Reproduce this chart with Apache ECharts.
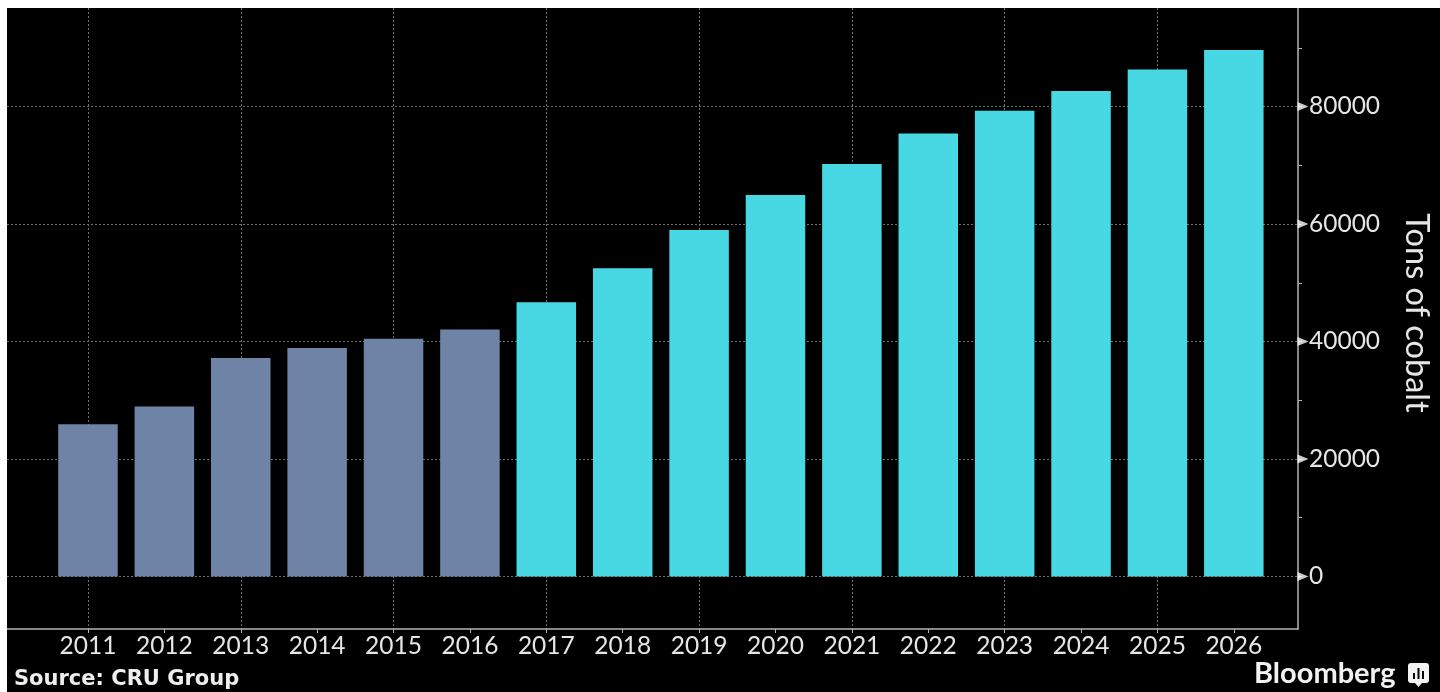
<!DOCTYPE html>
<html>
<head>
<meta charset="utf-8">
<style>
  html, body { margin: 0; padding: 0; width: 1440px; height: 692px; background: #fff; overflow: hidden; }
  #chart { position: absolute; left: 7px; top: 8px; width: 1433px; height: 684px; background: #000; }
</style>
<script src="https://cdn.jsdelivr.net/npm/echarts@6/dist/echarts.min.js"></script>
</head>
<body>
<div id="chart"></div>
<script>
// Global cobalt demand in tons, with CRU Group's outlook from 2017 on
const years = [2011, 2012, 2013, 2014, 2015, 2016, 2017, 2018, 2019, 2020, 2021, 2022, 2023, 2024, 2025, 2026];
const tons = [25900, 28950, 37200, 38900, 40450, 42050, 46700, 52450, 59000, 64950, 70200, 75400, 79300, 82650, 86300, 89600];
const lastActualYear = 2016;
const yLabelTicks = [0, 20000, 40000, 60000, 80000];
const yMinorTicks = [0, 10000, 20000, 30000, 40000, 50000, 60000, 70000, 80000, 90000];
const xGridYears = [2011, 2013, 2015, 2017, 2019, 2021, 2023, 2025];

const actualColor = '#6f83a6';
const outlookColor = '#48d8e4';
const inkColor = '#e6e6e6';
const frameColor = '#b4b4b4';
const gridColor = '#707070';

const xRange = { min: 2009.94, max: 2026.84 };
const yRange = { min: -8940, max: 96770 };

const chart = echarts.init(document.getElementById('chart'));
chart.setOption({
  animation: false,
  backgroundColor: '#000',
  grid: { left: 0, top: 0, right: 142, bottom: 63 },
  xAxis: [
    {
      type: 'value', ...xRange,
      axisLine: { show: true, onZero: false, lineStyle: { color: frameColor, width: 1.5 } },
      axisTick: { show: true, length: 4, customValues: years, lineStyle: { color: frameColor } },
      axisLabel: {
        customValues: years, color: inkColor, fontFamily: 'Lato', fontSize: 24.5, margin: 5,
        formatter: v => String(v)
      },
      splitLine: { show: false }
    },
    {
      // Carries only the dotted vertical rules, every second year
      type: 'value', ...xRange, position: 'bottom',
      axisLine: { show: false },
      axisTick: { show: false, customValues: xGridYears },
      axisLabel: { show: false, customValues: xGridYears },
      splitLine: { show: true, lineStyle: { color: gridColor, type: [2, 2], width: 1 } }
    }
  ],
  yAxis: [
    {
      type: 'value', ...yRange, position: 'right',
      axisLine: { show: true, onZero: false, lineStyle: { color: frameColor, width: 1.5 } },
      axisTick: { show: true, inside: false, length: 4, customValues: yMinorTicks, lineStyle: { color: frameColor } },
      axisLabel: {
        customValues: yLabelTicks, color: inkColor, fontFamily: 'Lato', fontSize: 24.5, margin: 11,
        padding: [3, 0, 0, 0],
        formatter: v => String(v)
      },
      splitLine: { show: false }
    },
    {
      // Carries only the dotted horizontal rules
      type: 'value', ...yRange, position: 'right',
      axisLine: { show: false },
      axisTick: { show: false, customValues: yLabelTicks },
      axisLabel: { show: false, customValues: yLabelTicks },
      splitLine: { show: true, lineStyle: { color: gridColor, type: [2, 2], width: 1 } }
    }
  ],
  series: [
    {
      type: 'bar', xAxisIndex: 0, yAxisIndex: 0, barWidth: 59.5, z: 3,
      data: years.map((y, i) => ({
        value: [y, tons[i]],
        itemStyle: { color: y <= lastActualYear ? actualColor : outlookColor }
      }))
    },
    {
      // White pointers on the value axis at each labelled tick
      type: 'scatter', xAxisIndex: 0, yAxisIndex: 0, z: 5, clip: false, silent: true,
      symbol: 'triangle', symbolSize: [9, 11], symbolRotate: -90, symbolOffset: [5, 0],
      itemStyle: { color: '#fff' },
      data: yLabelTicks.map(v => [xRange.max, v])
    }
  ],
  graphic: [
    {
      type: 'text', x: 1409, y: 305, rotation: -Math.PI / 2, originX: 0, originY: 0, silent: true,
      style: { text: 'Tons of cobalt', fill: inkColor, font: '32.5px Lato', align: 'center', verticalAlign: 'middle' }
    },
    {
      type: 'text', left: 7, top: 661, silent: true,
      style: { text: 'Source: CRU Group', fill: '#eeeeee', font: 'bold 21px "DejaVu Sans"' }
    },
    {
      type: 'text', left: 1247, top: 651, silent: true,
      style: { text: 'Bloomberg', fill: '#f2f2f2', font: 'bold 29px Lato' }
    },
    {
      // Bloomberg chat-bubble mark with three small bars
      type: 'group', left: 1401, top: 655, silent: true,
      children: [
        { type: 'rect', shape: { x: 0, y: 0, width: 21, height: 20, r: 3 }, style: { fill: '#f2f2f2' } },
        { type: 'polygon', shape: { points: [[7, 20], [14, 20], [10.5, 24]] }, style: { fill: '#f2f2f2' } },
        { type: 'rect', shape: { x: 5, y: 10, width: 2, height: 6 }, style: { fill: '#000' } },
        { type: 'rect', shape: { x: 9.5, y: 5, width: 2, height: 11 }, style: { fill: '#000' } },
        { type: 'rect', shape: { x: 14, y: 8, width: 2, height: 8 }, style: { fill: '#000' } }
      ]
    }
  ]
});
</script>
</body>
</html>
